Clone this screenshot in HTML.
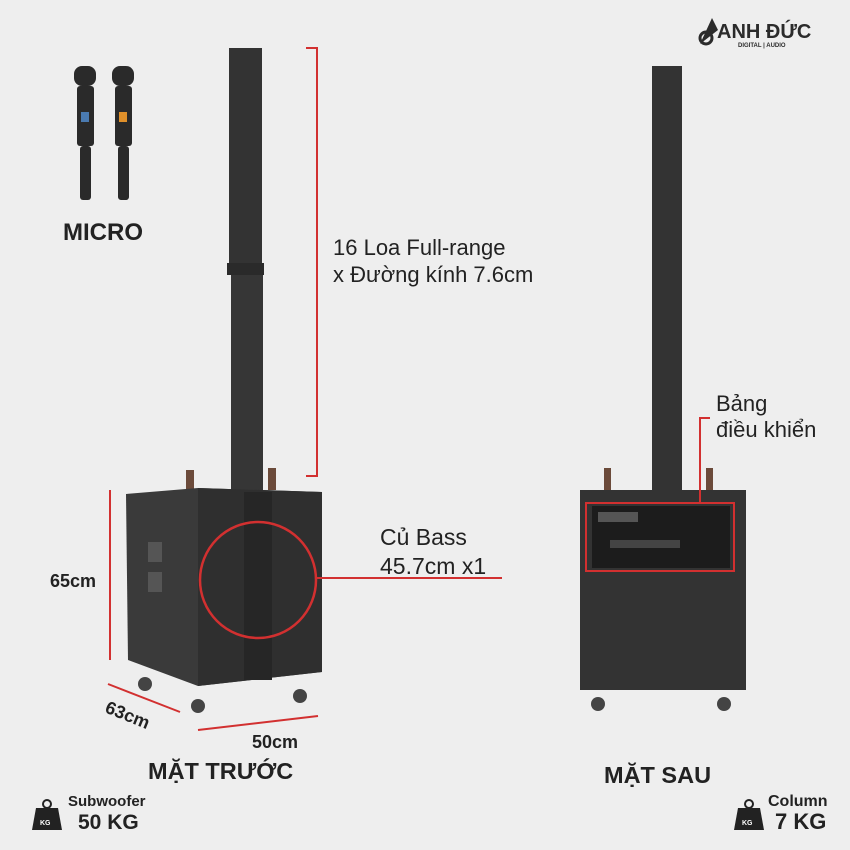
<!DOCTYPE html>
<html><head><meta charset="utf-8"><style>
html,body{margin:0;padding:0;width:850px;height:850px;overflow:hidden;background:#efefef}
svg{display:block}
text{font-family:"Liberation Sans","DejaVu Sans",sans-serif}
</style></head><body>
<svg width="850" height="850" viewBox="0 0 850 850">
<rect width="850" height="850" fill="#eeeeee"/>
<!-- logo -->
<path d="M700 44 L712 18 L718 30 Z" fill="#2b2b2b"/>
<circle cx="706" cy="38" r="6" fill="none" stroke="#2b2b2b" stroke-width="3"/>
<text x="717" y="38" font-size="20" font-weight="bold" fill="#2b2b2b">ANH ĐỨC</text>
<text x="738" y="47" font-size="6" font-weight="bold" fill="#2b2b2b">DIGITAL | AUDIO</text>
<!-- micros -->
<g fill="#2a2a2a">
<rect x="74" y="66" width="22" height="20" rx="8"/><rect x="77" y="86" width="17" height="60" rx="3"/><rect x="80" y="146" width="11" height="54" rx="3"/>
<rect x="112" y="66" width="22" height="20" rx="8"/><rect x="115" y="86" width="17" height="60" rx="3"/><rect x="118" y="146" width="11" height="54" rx="3"/>
</g>
<rect x="81" y="112" width="8" height="10" fill="#4a7ab0"/><rect x="119" y="112" width="8" height="10" fill="#e0902a"/>
<text x="63" y="240" font-size="24" font-weight="bold" fill="#222">MICRO</text>
<!-- front column -->
<rect x="229" y="48" width="33" height="215" fill="#333"/>
<rect x="227" y="263" width="37" height="12" fill="#2a2a2a"/>
<rect x="231" y="275" width="32" height="215" fill="#363636"/>
<g stroke="#d23030" stroke-width="2" fill="none">
<line x1="317" y1="48" x2="317" y2="476"/><line x1="306" y1="48" x2="318" y2="48"/><line x1="306" y1="476" x2="318" y2="476"/>
</g>
<text x="333" y="255" font-size="22" fill="#222">16 Loa Full-range</text>
<text x="333" y="282" font-size="22" fill="#222">x Đường kính 7.6cm</text>
<!-- subwoofer -->
<rect x="186" y="470" width="8" height="22" fill="#6b4a3a"/><rect x="268" y="468" width="8" height="22" fill="#6b4a3a"/>
<path d="M126 494 L198 488 L322 492 L322 672 L198 686 L128 660 Z" fill="#3a3a3a"/>
<path d="M198 488 L322 492 L322 672 L198 686 Z" fill="#2f2f2f"/>
<rect x="148" y="542" width="14" height="20" fill="#555"/><rect x="148" y="572" width="14" height="20" fill="#555"/>
<rect x="244" y="492" width="28" height="188" fill="#262626"/>
<circle cx="145" cy="684" r="7" fill="#444"/><circle cx="198" cy="706" r="7" fill="#444"/><circle cx="300" cy="696" r="7" fill="#444"/>
<circle cx="258" cy="580" r="58" fill="none" stroke="#d23030" stroke-width="2.5"/>
<line x1="316" y1="578" x2="502" y2="578" stroke="#d23030" stroke-width="2"/>
<text x="380" y="545" font-size="23" fill="#222">Củ Bass</text>
<text x="380" y="574" font-size="23" fill="#222">45.7cm x1</text>
<g stroke="#d23030" stroke-width="2">
<line x1="110" y1="490" x2="110" y2="660"/>
<line x1="108" y1="684" x2="180" y2="712"/>
<line x1="198" y1="730" x2="318" y2="716"/>
</g>
<text x="50" y="587" font-size="18" font-weight="bold" fill="#222">65cm</text>
<text x="104" y="712" font-size="18" font-weight="bold" fill="#222" transform="rotate(22 104 712)">63cm</text>
<text x="252" y="748" font-size="18" font-weight="bold" fill="#222">50cm</text>
<text x="148" y="779" font-size="23.5" font-weight="bold" fill="#222">MẶT TRƯỚC</text>
<!-- rear -->
<rect x="652" y="66" width="30" height="428" fill="#333"/>
<rect x="604" y="468" width="7" height="24" fill="#6b4a3a"/><rect x="706" y="468" width="7" height="24" fill="#6b4a3a"/>
<rect x="580" y="490" width="166" height="200" fill="#333"/>
<rect x="592" y="506" width="138" height="62" fill="#1c1c1c"/>
<rect x="598" y="512" width="40" height="10" fill="#555"/><rect x="610" y="540" width="70" height="8" fill="#444"/>
<rect x="586" y="503" width="148" height="68" fill="none" stroke="#d23030" stroke-width="2"/>
<circle cx="598" cy="704" r="7" fill="#444"/><circle cx="724" cy="704" r="7" fill="#444"/>
<polyline points="700,502 700,418 710,418" fill="none" stroke="#d23030" stroke-width="2"/>
<text x="716" y="411" font-size="22" fill="#222">Bảng</text>
<text x="716" y="437" font-size="22" fill="#222">điều khiển</text>
<text x="604" y="783" font-size="23.5" font-weight="bold" fill="#222">MẶT SAU</text>
<!-- weights -->
<path d="M36 808 L58 808 L62 830 L32 830 Z" fill="#222"/><circle cx="47" cy="804" r="4" fill="none" stroke="#222" stroke-width="2"/>
<text x="40" y="825" font-size="7" font-weight="bold" fill="#fff">KG</text>
<text x="68" y="806" font-size="15" font-weight="bold" fill="#222">Subwoofer</text>
<text x="78" y="829" font-size="21" font-weight="bold" fill="#222">50 KG</text>
<path d="M738 808 L760 808 L764 830 L734 830 Z" fill="#222"/><circle cx="749" cy="804" r="4" fill="none" stroke="#222" stroke-width="2"/>
<text x="742" y="825" font-size="7" font-weight="bold" fill="#fff">KG</text>
<text x="768" y="806" font-size="16" font-weight="bold" fill="#222">Column</text>
<text x="775" y="829" font-size="22" font-weight="bold" fill="#222">7 KG</text>
</svg>
</body></html>
